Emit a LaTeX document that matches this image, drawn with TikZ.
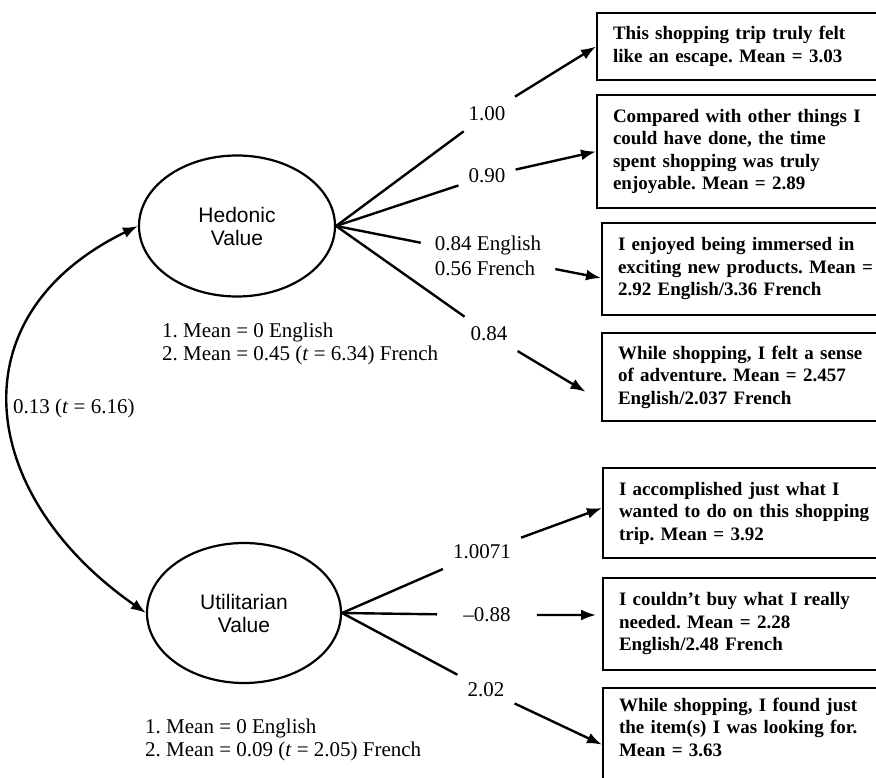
\documentclass[tikz,border=0pt]{standalone}
\usepackage{fontspec}
\setmainfont{Liberation Serif}
\newfontfamily\arialfont{Liberation Sans}
\usetikzlibrary{shapes.geometric,arrows.meta}
\frenchspacing
\begin{document}
\begin{tikzpicture}[x=1pt,y=-1pt,>={Latex[length=15pt,width=11pt]},
  latent/.style={ellipse,draw,line width=2.2pt,align=center,inner sep=0pt,font=\arialfont\fontsize{21}{23}\selectfont},
  itembox/.style={draw,line width=2pt,anchor=north west,text width=275pt,align=left,inner xsep=16pt,inner ysep=10pt,font=\bfseries\fontsize{19}{22.5}\selectfont},
  coef/.style={inner xsep=10pt,inner ysep=10pt,font=\fontsize{21}{25}\selectfont},
  note/.style={anchor=west,align=left,inner sep=0pt,font=\fontsize{21}{23}\selectfont},
  link/.style={line width=2.4pt,->}]
\useasboundingbox (0,0) rectangle (876,778);
\node[latent,minimum width=196pt,minimum height=141pt] (hed) at (237,226) {Hedonic\\Value};
\node[latent,minimum width=194pt,minimum height=140pt] (util) at (244,613) {Utilitarian\\Value};
\node[itembox,minimum height=67pt] (b1) at (596,12) {This shopping trip truly felt\\like an escape. Mean = 3.03};
\node[itembox,minimum height=113pt] (b2) at (596,94) {Compared with other things I\\could have done, the time\\spent shopping was truly\\enjoyable. Mean = 2.89};
\node[itembox,minimum height=92pt] (b3) at (601,222) {I enjoyed being immersed in\\exciting new products. Mean =\\2.92 English/3.36 French};
\node[itembox,minimum height=88pt] (b4) at (601,332) {While shopping, I felt a sense\\of adventure. Mean = 2.457\\English/2.037 French};
\node[itembox,minimum height=90pt] (b5) at (602,467) {I accomplished just what I\\wanted to do on this shopping\\trip. Mean = 3.92};
\node[itembox,minimum height=92pt] (b6) at (602,577) {I couldn’t buy what I really\\needed. Mean = 2.28\\English/2.48 French};
\node[itembox,text depth=80pt] (b7) at (602,687) {While shopping, I found just\\the item(s) I was looking for.\\Mean = 3.63};
\node[coef] (c1) at (487,114) {1.00};
\node[coef] (c2) at (487,176) {0.90};
\node[coef,align=left,inner xsep=14pt] (c3) at (488,256) {0.84 English\\0.56 French};
\node[coef] (c4) at (489,334) {0.84};
\node[coef] (c5) at (482,552) {1.0071};
\node[coef,inner xsep=26pt] (c6) at (487,615) {\textendash0.88};
\node[coef] (c7) at (486,690) {2.02};
\node[note] (hmean) at (162,344) {1. Mean = 0 English\\2. Mean = 0.45 (\textit{t} = 6.34) French};
\node[note] (umean) at (145,740) {1. Mean = 0 English\\2. Mean = 0.09 (\textit{t} = 2.05) French};
\node[note] (corr) at (13,408) {0.13 (\textit{t} = 6.16)};
\draw[link] (hed.east) -- (c1) -- (b1.west);
\draw[link] (hed.east) -- (c2) -- (b2.west);
\draw[link] (hed.east) -- (c3) -- ([yshift=-9pt]b3.west);
\draw[link,shorten >=18pt] (hed.east) -- (c4) -- ([yshift=-24pt]b4.west);
\draw[link] (util.east) -- (c5) -- ([yshift=5pt]b5.west);
\draw[link,shorten >=6pt] (util.east) -- (c6) -- ([yshift=9pt]b6.west);
\draw[link] (util.east) -- (c7) -- (b7.west);
\draw[line width=2.4pt,<->] (util.west) .. controls +(-168,-117) and +(-185,90) .. (hed.west);
\end{tikzpicture}
\end{document}
